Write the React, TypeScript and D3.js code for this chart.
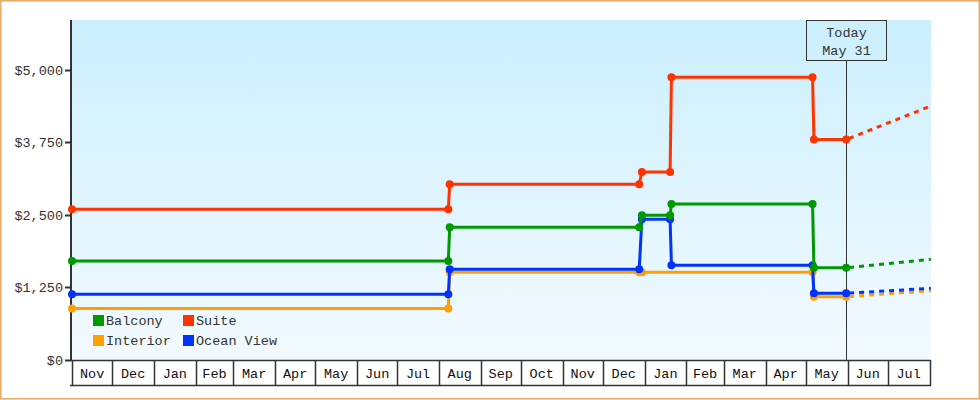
import React from 'react';
import * as d3 from 'd3';

// ---- data ----
const monthLabels = ['Nov','Dec','Jan','Feb','Mar','Apr','May','Jun','Jul','Aug','Sep','Oct','Nov','Dec','Jan','Feb','Mar','Apr','May','Jun','Jul'];
const monthStarts = ['2021-11-01','2021-12-01','2022-01-01','2022-02-01','2022-03-01','2022-04-01','2022-05-01','2022-06-01','2022-07-01','2022-08-01','2022-09-01','2022-10-01','2022-11-01','2022-12-01','2023-01-01','2023-02-01','2023-03-01','2023-04-01','2023-05-01','2023-06-01','2023-07-01','2023-08-01'];
const yTicks = [0, 1250, 2500, 3750, 5000];
const yTickLabels = ['$0', '$1,250', '$2,500', '$3,750', '$5,000'];

const dates = ['2021-11-01','2022-08-08','2022-08-09','2022-12-28','2022-12-30','2023-01-20','2023-01-21','2023-05-06','2023-05-07','2023-05-31'];
const interior = [890, 890, 1515, 1515, 1515, null, null, 1515, 1091, 1091];
const oceanView = [1133, 1133, 1563, 1563, 2425, 2425, 1632, 1632, 1150, 1150];
const balcony = [1707, 1707, 2288, 2288, 2494, 2494, 2690, 2690, 1591, 1591];
const suite = [2600, 2600, 3030, 3030, 3240, 3240, 4875, 4875, 3800, 3800];

const forecastDates = ['2023-05-31', '2023-08-02'];
const interiorForecast = [1091, 1195];
const oceanViewForecast = [1150, 1236];
const balconyForecast = [1591, 1736];
const suiteForecast = [3800, 4380];

const todayDate = '2023-05-31';
const todayLabel = ['Today', 'May 31'];

const seriesNames = ['Interior', 'Ocean View', 'Balcony', 'Suite'];
const seriesColors = ['#FFA000', '#0033FF', '#009900', '#FF3300'];
const seriesValues = [interior, oceanView, balcony, suite];
const seriesForecast = [interiorForecast, oceanViewForecast, balconyForecast, suiteForecast];
const legendOrder = ['Balcony', 'Suite', 'Interior', 'Ocean View'];

const FONT = '"Liberation Mono", "DejaVu Sans Mono", monospace';
const FS = 13.5;

export default function App() {
  const W = 980, H = 400;
  const left = 72, right = 931, top = 20, bottom = 360;
  const parse = d3.utcParse('%Y-%m-%d');
  const x = d3.scaleUtc()
    .domain([parse('2021-11-01')!, parse('2023-08-01')!])
    .range([72, 929.5]);
  const y = d3.scaleLinear().domain([0, 5862]).range([bottom, top]);

  const line = d3.line<[Date, number]>()
    .x(d => x(d[0]))
    .y(d => y(d[1]));

  const todayX = Math.round(x(parse(todayDate)!)) + 0.5;

  return (
    <div style={{ position: 'fixed', left: 0, top: 0 }}>
      <svg width={W} height={H} style={{ display: 'block', background: '#fff' }} fontFamily={FONT}>
        <defs>
          <linearGradient id="bg" x1="0" y1="0" x2="0" y2="1">
            <stop offset="0%" stopColor="#CBEFFD" />
            <stop offset="100%" stopColor="#F3FAFF" />
          </linearGradient>
          <clipPath id="plotClip">
            <rect x={left} y={top} width={right - left} height={bottom - top} />
          </clipPath>
        </defs>
        <rect x={0.75} y={0.75} width={978.5} height={398} fill="#fff" stroke="#E8AA66" strokeWidth={1.5} />
        <rect x={left} y={top} width={right - left} height={bottom - top} fill="url(#bg)" />

        {/* Today marker */}
        <line x1={todayX} x2={todayX} y1={60} y2={bottom} stroke="#333" strokeWidth={1} />
        <rect x={806.5} y={20.5} width={80} height={40} fill="none" stroke="#333" strokeWidth={1} />
        <text x={846.5} y={37} textAnchor="middle" fontSize={FS} fill="#333">{todayLabel[0]}</text>
        <text x={846.5} y={55} textAnchor="middle" fontSize={FS} fill="#333">{todayLabel[1]}</text>

        {/* y axis line */}
        <line x1={71} x2={71} y1={top} y2={bottom + 1} stroke="#333" strokeWidth={2} />

        {/* series */}
        {seriesNames.map((name, si) => {
          const pts: [Date, number][] = [];
          dates.forEach((d, i) => {
            const v = seriesValues[si][i];
            if (v !== null && v !== undefined) pts.push([parse(d)!, v as number]);
          });
          const fpts: [Date, number][] = forecastDates.map((d, i) => [parse(d)!, seriesForecast[si][i]]);
          return (
            <g key={name}>
              <g clipPath="url(#plotClip)">
                <path d={line(fpts) || ''} fill="none" stroke={seriesColors[si]} strokeWidth={3} strokeDasharray="5,5" strokeDashoffset={-3} />
                <path d={line(pts) || ''} fill="none" stroke={seriesColors[si]} strokeWidth={3} strokeLinejoin="round" />
              </g>
              {pts.map((p, i) => (
                <circle key={i} cx={x(p[0])} cy={y(p[1])} r={4} fill={seriesColors[si]} />
              ))}
            </g>
          );
        })}

        {/* legend */}
        {legendOrder.map((name, i) => {
          const si = seriesNames.indexOf(name);
          const lx = i % 2 === 0 ? 93 : 183;
          const ly = i < 2 ? 315 : 335;
          return (
            <g key={name}>
              <rect x={lx} y={ly} width={11} height={11} fill={seriesColors[si]} />
              <text x={lx + 13} y={ly + 10} fontSize={FS} fill="#333">{name}</text>
            </g>
          );
        })}

        {/* y ticks */}
        {yTicks.map((t, i) => (
          <g key={t}>
            <line x1={65} x2={71} y1={Math.round(y(t)) + 0.5} y2={Math.round(y(t)) + 0.5} stroke="#333" strokeWidth={2} />
            <text x={63} y={y(t) + 5} textAnchor="end" fontSize={FS} fill="#333">{yTickLabels[i]}</text>
          </g>
        ))}

        {/* x axis boxes */}
        <line x1={70} x2={931} y1={360.5} y2={360.5} stroke="#333" strokeWidth={1.5} />
        <line x1={70} x2={931} y1={385.5} y2={385.5} stroke="#333" strokeWidth={1.5} />
        {monthStarts.map((m, i) => {
          const xx = Math.round(x(parse(m)!)) + 0.5;
          return <line key={'v' + i} x1={xx} x2={xx} y1={360} y2={386} stroke="#333" strokeWidth={1.5} />;
        })}
        {monthLabels.map((lab, i) => {
          const x0 = x(parse(monthStarts[i])!);
          const x1 = x(parse(monthStarts[i + 1])!);
          return (
            <text key={'m' + i} x={(x0 + x1) / 2} y={378} textAnchor="middle" fontSize={FS} fill="#111">{lab}</text>
          );
        })}
      </svg>
    </div>
  );
}
